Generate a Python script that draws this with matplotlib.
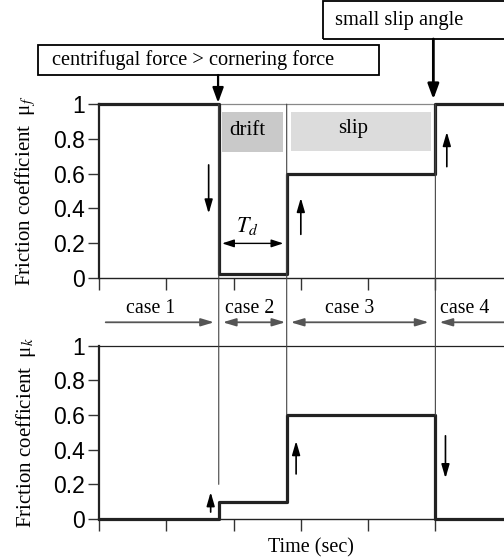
import matplotlib
matplotlib.use("Agg")
import matplotlib.pyplot as plt
from matplotlib.patches import Rectangle, ConnectionPatch

plt.rcParams['font.family'] = ['Liberation Serif', 'DejaVu Serif']
plt.rcParams['mathtext.fontset'] = 'stix'

# switching times (sec)
t_drift = 1.78
t_slip = 2.79
t_grip = 5.0
t_end = 6.0

times = [0, t_drift, t_slip, t_grip, t_end]
mu_f = [1.0, 0.02, 0.6, 1.0, 1.0]
mu_k = [0.0, 0.1, 0.6, 0.0, 0.0]

yticks = [0, 0.2, 0.4, 0.6, 0.8, 1]
ytick_labels = ["0", "0.2", "0.4", "0.6", "0.8", "1"]
xticks = [0, 1, 2, 3, 4, 5]

case_labels = ["case 1", "case 2", "case 3", "case 4"]
case_label_x = [0.77, 2.24, 3.72, 5.43]

fig = plt.figure(figsize=(5.04, 5.6), dpi=100)
ax1 = fig.add_axes([0.1964, 0.504, 0.8036, 0.310])
ax2 = fig.add_axes([0.1964, 0.0732, 0.8036, 0.3095])

for ax in (ax1, ax2):
    ax.set_xlim(0, 6.02)
    ax.set_ylim(0, 1)
    ax.set_xticks(xticks)
    ax.set_xticklabels([])
    ax.set_yticks(yticks)
    ax.set_yticklabels(ytick_labels, family='Liberation Sans', fontsize=16.5)
    ax.tick_params(axis='y', direction='out', length=8, width=1, color='#333', pad=2)
    ax.tick_params(axis='x', direction='out', length=8.5, width=1, color='#333')
    ax.spines['right'].set_visible(False)
    ax.spines['left'].set_linewidth(1.6)
    ax.spines['left'].set_color('#222')
    ax.spines['bottom'].set_linewidth(1.0)
    ax.spines['bottom'].set_color('#222')
    ax.patch.set_alpha(0)

ax1.spines['top'].set_color('#888')
ax1.spines['top'].set_linewidth(0.9)
ax2.spines['top'].set_color('#222')
ax2.spines['top'].set_linewidth(0.9)

# shaded regions
ax1.add_patch(Rectangle((1.83, 0.725), 0.91, 0.23, color='#c9c9c9', lw=0, zorder=1))
ax1.add_patch(Rectangle((2.85, 0.73), 2.08, 0.225, color='#dcdcdc', lw=0, zorder=1))
ax1.text(2.21, 0.85, "drift", fontsize=15, ha='center', va='center')
ax1.text(3.78, 0.86, "slip", fontsize=15, ha='center', va='center')

# step curves
ax1.step(times, mu_f, where='post', color='#222', lw=2.3, clip_on=False, zorder=5)
ax2.step(times, mu_k, where='post', color='#222', lw=2.3, clip_on=False, zorder=5)

# thin separators across both plots
for x, yb in [(t_drift, 0.2), (t_slip, 0.6), (t_grip, 0.6)]:
    con = ConnectionPatch(xyA=(x, 1), coordsA=ax1.transData,
                          xyB=(x, yb), coordsB=ax2.transData,
                          color='#444', lw=0.8, zorder=3)
    fig.add_artist(con)

ax1.set_ylabel("Friction coefficient  μ$_f$", fontsize=15)
ax2.set_ylabel("Friction coefficient  μ$_k$", fontsize=15)
ax1.yaxis.set_label_coords(-0.15, 0.5)
ax2.yaxis.set_label_coords(-0.15, 0.5)

def arrow(ax, x, y0, y1):
    ax.annotate('', xy=(x, y1), xytext=(x, y0),
                arrowprops=dict(arrowstyle='-|>,head_length=0.55,head_width=0.16',
                                mutation_scale=15, color='black', lw=1.2,
                                shrinkA=0, shrinkB=0))

arrow(ax1, 1.63, 0.65, 0.37)
arrow(ax1, 3.0, 0.25, 0.46)
arrow(ax1, 5.17, 0.64, 0.84)
arrow(ax2, 1.66, 0.04, 0.155)
arrow(ax2, 2.93, 0.26, 0.45)
arrow(ax2, 5.15, 0.48, 0.235)

# T_d
ax1.annotate('', xy=(2.74, 0.198), xytext=(1.83, 0.198),
             arrowprops=dict(arrowstyle='<|-|>,head_length=0.55,head_width=0.18',
                             mutation_scale=13, color='black', lw=1.0,
                             shrinkA=0, shrinkB=0))
ax1.text(2.21, 0.30, "$T_d$", fontsize=16, ha='center', va='center')

# case arrows
case_y = 1.135
gray = '#555'
def case_arrow(style, x0, x1):
    ax2.annotate('', xy=(x1, case_y), xytext=(x0, case_y), annotation_clip=False,
                 arrowprops=dict(arrowstyle=style + ',head_length=0.6,head_width=0.18',
                                 mutation_scale=13, color=gray, lw=1.3,
                                 shrinkA=0, shrinkB=0))

case_arrow('-|>', 0.10, 1.71)
case_arrow('<|-|>', 1.84, 2.77)
case_arrow('<|-|>', 2.85, 4.90)
case_arrow('<|-', 5.06, 6.2)
for lab, x in zip(case_labels, case_label_x):
    ax2.text(x, 1.215, lab, fontsize=14.3, ha='center', va='center', clip_on=False)

# annotation boxes
W, H = 504.0, 560.0
fig.add_artist(Rectangle((38 / W, 1 - 75 / H), 341 / W, 30 / H, transform=fig.transFigure,
                         fill=False, ec='black', lw=1.3))
fig.text(52 / W, 1 - 60 / H, "centrifugal force > cornering force", fontsize=14.7,
         ha='left', va='center')
fig.add_artist(Rectangle((323 / W, 1 - 39 / H), 200 / W, 38 / H, transform=fig.transFigure,
                         fill=False, ec='black', lw=1.3))
fig.text(335 / W, 1 - 21 / H, "small slip angle", fontsize=14.8, ha='left', va='center')

ax1.annotate('', xy=(t_drift - 0.01, 1.0), xytext=(t_drift - 0.01, 1 - 75 / H),
             textcoords=('data', 'figure fraction'), annotation_clip=False,
             arrowprops=dict(arrowstyle='-|>,head_length=0.6,head_width=0.22',
                             mutation_scale=15, color='black', lw=1.6,
                             shrinkA=0, shrinkB=1))
ax1.annotate('', xy=(t_grip - 0.03, 1.02), xytext=(t_grip - 0.03, 1 - 39 / H),
             textcoords=('data', 'figure fraction'), annotation_clip=False,
             arrowprops=dict(arrowstyle='-|>,head_length=0.6,head_width=0.22',
                             mutation_scale=15, color='black', lw=2.0,
                             shrinkA=0, shrinkB=1))

fig.text(311 / W, 1 - 548 / H, "Time (sec)", fontsize=14.5, ha='center', va='center')

fig.savefig("out.png", dpi=100)
